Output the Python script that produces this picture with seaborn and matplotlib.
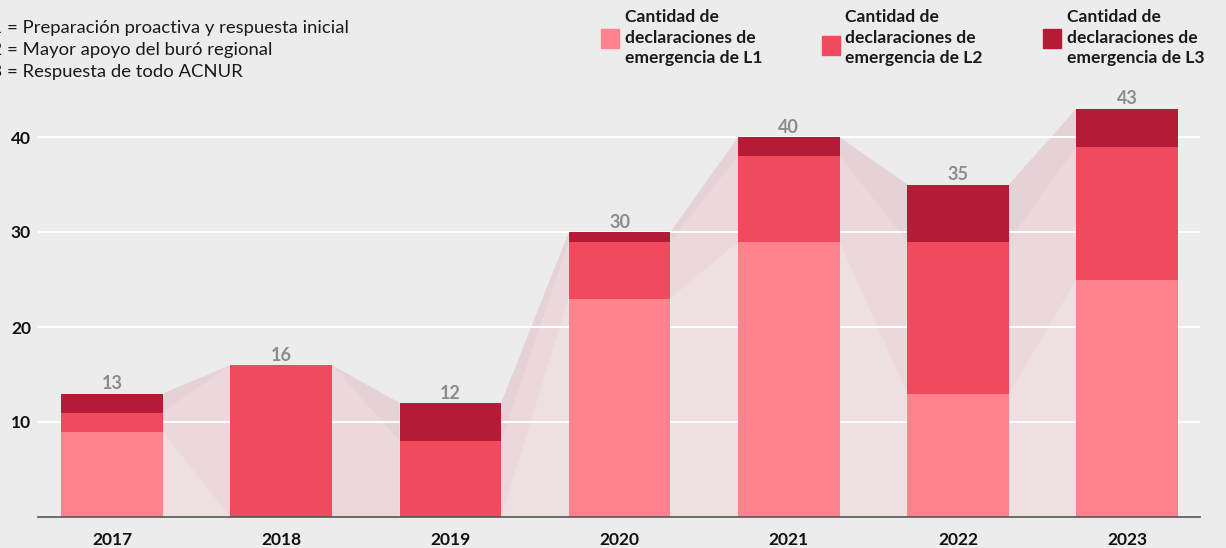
import numpy as np
import pandas as pd
import seaborn as sns
import matplotlib.pyplot as plt

years = ["2017", "2018", "2019", "2020", "2021", "2022", "2023"]
l1 = [9, 0, 0, 23, 29, 13, 25]
l2 = [2, 16, 8, 6, 9, 16, 14]
l3 = [2, 0, 4, 1, 2, 6, 4]
totals = [13, 16, 12, 30, 40, 35, 43]

legend_labels = [
    "Cantidad de\ndeclaraciones de\nemergencia de L1",
    "Cantidad de\ndeclaraciones de\nemergencia de L2",
    "Cantidad de\ndeclaraciones de\nemergencia de L3",
]
note_lines = [
    "L1 = Preparación proactiva y respuesta inicial",
    "L2 = Mayor apoyo del buró regional",
    "L3 = Respuesta de todo ACNUR",
]

colors = ["#ff838f", "#f04a5f", "#b41b37"]
bg = "#ececec"
W, H = 1226, 548


def main():
    sns.set_theme(style="white")
    plt.rcParams["font.family"] = ["Lato", "DejaVu Sans"]

    fig = plt.figure(figsize=(W / 100, H / 100), dpi=100, facecolor=bg)
    ax = fig.add_axes([38 / W, (H - 517) / H, (1200 - 38) / W, 427.5 / H])
    ax.set_facecolor(bg)

    df = pd.DataFrame({"year": years, "l1": l1, "l2": l2, "l3": l3})
    df["c1"] = df["l1"]
    df["c2"] = df["l1"] + df["l2"]
    df["c3"] = df["c2"] + df["l3"]

    bw = 0.6
    # ribbons between neighbouring bars
    lows = [np.zeros(len(years)), df["c1"].values, df["c2"].values]
    highs = [df["c1"].values, df["c2"].values, df["c3"].values]
    for k in range(3):
        for i in range(len(years) - 1):
            xa, xb = i + bw / 2, i + 1 - bw / 2
            ax.fill([xa, xb, xb, xa],
                    [lows[k][i], lows[k][i + 1], highs[k][i + 1], highs[k][i]],
                    color=colors[k], alpha=0.12, lw=0, zorder=1)

    for y in [10, 20, 30, 40]:
        ax.axhline(y, color="white", lw=1.5, zorder=1.5)

    for col, c in zip(["c3", "c2", "c1"], colors[::-1]):
        sns.barplot(data=df, x="year", y=col, color=c, width=bw, linewidth=0,
                    saturation=1, ax=ax, zorder=2)

    for i, t in enumerate(totals):
        ax.text(i, t + 0.15, str(t), ha="center", va="bottom", fontsize=13,
                fontweight="bold", color="#8c8c8c")

    ax.set_xlim(-0.437, 6.43)
    ax.set_ylim(0, 45)
    ax.set_yticks([10, 20, 30, 40])
    ax.set_yticklabels(["10", "20", "30", "40"], fontsize=12.5, fontweight="bold",
                       color="#111111")
    ax.set_xticks(range(len(years)))
    ax.set_xticklabels(years, fontsize=12.5, fontweight="bold", color="#111111")
    ax.tick_params(axis="both", length=0)
    ax.tick_params(axis="x", pad=11)
    ax.tick_params(axis="y", pad=5)
    ax.set_xlabel("")
    ax.set_ylabel("")
    for s in ["top", "right", "left"]:
        ax.spines[s].set_visible(False)
    ax.spines["bottom"].set_color("#555555")
    ax.spines["bottom"].set_linewidth(1.2)
    ax.spines["bottom"].set_zorder(3)

    # legend
    sq = [(601, 29), (822, 36), (1043, 29)]
    tx = [625, 845, 1067]
    for k in range(3):
        x0, y0 = sq[k]
        fig.patches.append(plt.Rectangle((x0 / W, 1 - (y0 + 19) / H), 18 / W, 19 / H,
                                         transform=fig.transFigure, color=colors[k]))
        fig.text(tx[k] / W, 1 - 9 / H, legend_labels[k], ha="left", va="top",
                 fontsize=12.6, fontweight="bold", color="#1a1a1a", linespacing=1.36)

    for j, line in enumerate(note_lines):
        fig.text(-18 / W, 1 - (28 + 22 * j) / H, line, ha="left", va="center",
                 fontsize=13.3, color="#1a1a1a")

    fig.savefig("out.png", dpi=100, facecolor=bg)


if __name__ == "__main__":
    main()
